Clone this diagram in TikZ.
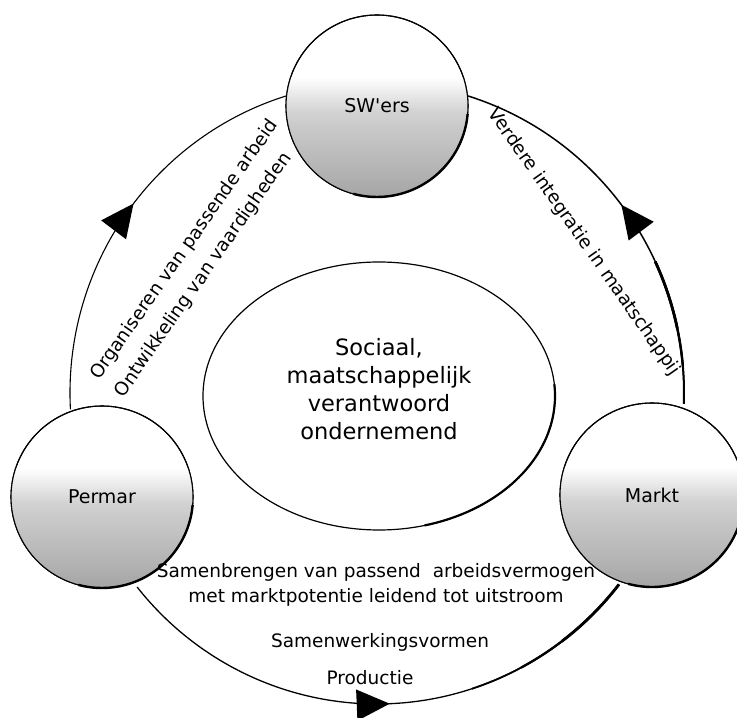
\documentclass[tikz,border=0pt]{standalone}
\usepackage{fontspec}
\setmainfont{DejaVu Sans}[Ligatures=TeXOff]
\usetikzlibrary{arrows.meta,decorations.markings,shapes.geometric}
\begin{document}
\begin{tikzpicture}[x=1pt,y=1pt,
  ball/.style={circle, draw, line width=1.1pt, minimum size=182pt, inner sep=0pt, fill=white, font=\fontsize{19}{22}\selectfont},
  lbl/.style={font=\fontsize{18.5}{25}\selectfont, inner sep=0pt},
  ringline/.style={line width=1.2pt},
  midarrow/.style={postaction={decorate}, decoration={markings, mark=at position #1 with {\arrow{Triangle[length=33pt,width=31pt]}}}}
]
\useasboundingbox (0,0) rectangle (737,718);
\coordinate (rc) at (377,325);
% ring arcs
\coordinate (lA) at ([shift={(183:307pt and 311pt)}]rc);
\coordinate (rA) at ([shift={(-2:307pt and 311pt)}]rc);
\coordinate (bA) at ([shift={(218.6:307pt and 311pt)}]rc);
\draw[ringline, line width=1.1pt, midarrow=0.535] (lA) arc[start angle=183, end angle=107, x radius=307pt, y radius=311pt];
\draw[ringline, line width=1.5pt, midarrow=0.525] (rA) arc[start angle=-2, end angle=73, x radius=307pt, y radius=311pt];
\foreach \a/\w in {-2/2.0,5/2.4,12/2.8}{
  \draw[line width=\w pt] ([shift={(\a:307pt and 311pt)}]rc) arc[start angle=\a, end angle=25, x radius=307pt, y radius=311pt];
}
\draw[ringline, line width=1.3pt, midarrow=0.52] (bA) arc[start angle=218.6, end angle=322, x radius=307pt, y radius=311pt];
\foreach \a/\w in {288/1.8,298/2.3,307/2.8}{
  \draw[line width=\w pt] ([shift={(\a:307pt and 311pt)}]rc) arc[start angle=\a, end angle=322, x radius=307pt, y radius=311pt];
}
% central ellipse
\node[draw, ellipse, line width=1.2pt, minimum width=352pt, minimum height=268pt, inner sep=0pt] (core) at (379,322) {};
\draw[line width=2.2pt] ([shift={(-75:176pt and 134pt)}]core.center) arc[start angle=-75, end angle=5, x radius=176pt, y radius=134pt];
\node[align=center, inner sep=0pt, font=\fontsize{22.5}{28}\selectfont] (coretxt) at (379,329) {Sociaal,\\maatschappelijk\\verantwoord\\ondernemend};
% balls
\foreach \n/\x/\y/\r/\t in {sw/377/612/91/{SW'ers}, pe/102/221/91/{Permar}, ma/652/223/92/{Markt}}{
  \node[ball, minimum size=2*\r pt] (\n) at (\x,\y) {};
  \begin{scope}
    \clip (\n.center) circle[radius=\r pt];
    \foreach \i in {0,...,59}{
      \pgfmathsetmacro\tt{\i/59}
      \pgfmathsetmacro\p{ifthenelse(\tt<0.3, 60*\tt, 18+24*(\tt-0.3))}
      \pgfmathsetmacro\ya{(0.32-1.32*\i/60)*\r}
      \pgfmathsetmacro\yb{(0.32-1.32*(\i+1)/60)*\r-0.6}
      \fill[black!\p] ([shift={(-\r pt,\yb pt)}]\n.center) rectangle ([shift={(\r pt,\ya pt)}]\n.center);
    }
  \end{scope}
  \draw[line width=1.1pt] (\n.center) circle[radius=\r pt];
  \draw[line width=2.4pt] ([shift={(-105:\r pt)}]\n.center) arc[start angle=-105, end angle=-5, radius=\r pt];
  \node[font=\fontsize{19}{22}\selectfont, inner sep=0pt] (\n txt) at (\n.center) {\t};
}
% labels
\node[lbl, rotate=55, align=left, font=\fontsize{18.5}{30}\selectfont] (t1) at (196.8,459.4) {Organiseren van passende arbeid\\Ontwikkeling van vaardigheden};
\node[lbl, rotate=-55] (t3) at (584,476) {Verdere integratie in maatschappij};
\node[lbl, align=center] (t4) at (376,133.5) {Samenbrengen van passend\ \ arbeidsvermogen\\met marktpotentie leidend tot uitstroom};
\node[lbl] (t5) at (380,76) {Samenwerkingsvormen};
\node[lbl] (t6) at (370,40) {Productie};
\end{tikzpicture}
\end{document}
